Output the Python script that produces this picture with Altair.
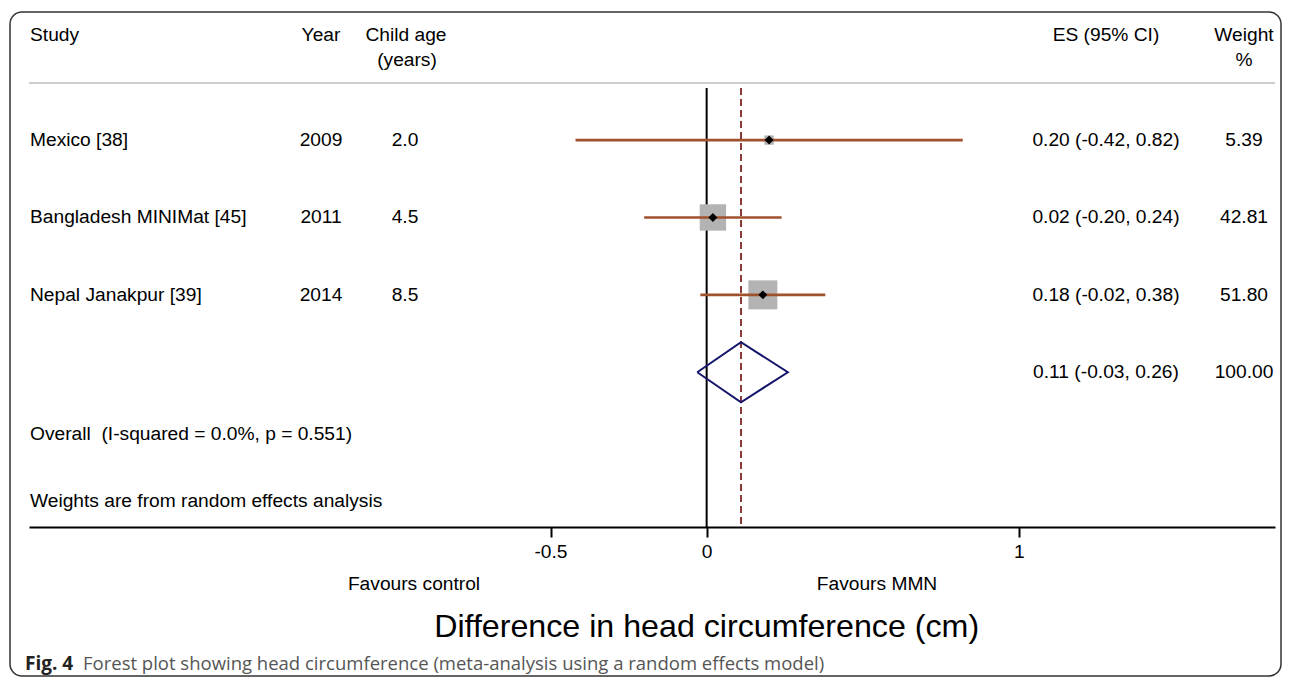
import altair as alt
import pandas as pd

# ---------------- data ----------------
studies = ["Mexico [38]", "Bangladesh MINIMat [45]", "Nepal Janakpur [39]"]
years = ["2009", "2011", "2014"]
ages = ["2.0", "4.5", "8.5"]
es = [0.20, 0.02, 0.18]
ci_lo = [-0.42, -0.20, -0.02]
ci_hi = [0.82, 0.24, 0.38]
weights = [5.39, 42.81, 51.80]

overall_es = 0.11
overall_lo = -0.03
overall_hi = 0.26
overall_weight = 100.00
overall_label = "Overall \u00a0(I-squared = 0.0%, p = 0.551)"
weights_note = "Weights are from random effects analysis"

x_ticks = [-0.5, 0, 1]
null_value = 0

# ---------------- layout (row units) ----------------
FONT = "Liberation Sans"
FS = 19.2
n = len(studies)
rows = list(range(1, n + 1))
overall_row = n + 1
HDR1, HDR2 = -0.358, -0.035
SEP_ROW = 0.263
VTOP = 0.328
OVERALL_TXT = 4.80
WEIGHTS_TXT = 5.668
AXIS_ROW = 6.0
TOP_ROW = -0.707
FAV_ROW = 6.742
TITLE_ROW = 7.298
CAP_ROW = 7.765
DIAMOND_H = 0.388

W, H = 1246, 519
xscale = alt.Scale(domain=[-2.170, 1.820], nice=False, zero=False)
yscale = alt.Scale(domain=[TOP_ROW, AXIS_ROW], reverse=True, nice=False, zero=False)
xaxis = alt.Axis(
    values=x_ticks, title=None, grid=False, domain=True, domainColor="black",
    domainWidth=2, tickColor="black", tickWidth=2, tickSize=10,
    labelFont=FONT, labelFontSize=FS, labelColor="black", labelPadding=5,
    labelFlush=False, format="~g",
    labelExpr="replace(datum.label, '\u2212', '-')")

studies_df = pd.DataFrame({
    "study": studies, "year": years, "age": ages, "es": es,
    "lo": ci_lo, "hi": ci_hi, "w": weights, "row": rows,
    "es_txt": [f"{e:.2f} ({l:.2f}, {h:.2f})" for e, l, h in zip(es, ci_lo, ci_hi)],
    "w_txt": [f"{w:.2f}" for w in weights],
})

def X(f="x"):
    return alt.X(f"{f}:Q", scale=xscale, axis=xaxis)

def Y(f="row"):
    return alt.Y(f"{f}:Q", scale=yscale, axis=None)

base = alt.Chart(studies_df)

# frame
frame = alt.Chart(pd.DataFrame({"a": [0]})).mark_rect(
    fill=None, stroke="#333333", strokeWidth=1.5, cornerRadius=12
).encode(x=alt.value(-19), x2=alt.value(1252), y=alt.value(4), y2=alt.value(668))

# header separator
sep = alt.Chart(pd.DataFrame({"row": [SEP_ROW]})).mark_rule(
    color="#bdbdbd", strokeWidth=1.5
).encode(x=alt.value(0), x2=alt.value(W), y=Y())

# null line & overall dashed line
null_df = pd.DataFrame({"x": [null_value], "y1": [VTOP], "y2": [AXIS_ROW]})
ov_df_line = pd.DataFrame({"x": [overall_es], "y1": [VTOP], "y2": [AXIS_ROW]})
null_line = alt.Chart(null_df).mark_rule(color="black", strokeWidth=2).encode(
    x=X(), y=Y("y1"), y2="y2:Q")
ov_line = alt.Chart(ov_df_line).mark_rule(
    color="#8B3A3A", strokeWidth=2, strokeDash=[7, 4]
).encode(x=X(), y=Y("y1"), y2="y2:Q")

# weight squares
squares = base.mark_point(shape="square", filled=True, color="#b3b3b3", opacity=1).encode(
    x=X("es"), y=Y(),
    size=alt.Size("w:Q", scale=alt.Scale(domain=[0, 100], range=[0, 1624]), legend=None))

# CI lines
ci = base.mark_rule(color="#A0522D", strokeWidth=2.6).encode(
    x=X("lo"), x2="hi:Q", y=Y())

# point estimates
pts = base.mark_point(shape="diamond", filled=True, color="black", size=80, opacity=1).encode(
    x=X("es"), y=Y())

# overall diamond
dia_df = pd.DataFrame({
    "x": [overall_lo, overall_es, overall_hi, overall_es, overall_lo],
    "row": [overall_row, overall_row - DIAMOND_H, overall_row, overall_row + DIAMOND_H, overall_row],
    "o": [0, 1, 2, 3, 4]})
diamond = alt.Chart(dia_df).mark_line(color="#15156b", strokeWidth=2).encode(
    x=X(), y=Y(), order="o:Q")

# text columns
def txt(field, xpix, align="left"):
    return base.mark_text(align=align, baseline="middle", font=FONT, fontSize=FS,
                          color="black").encode(
        x=alt.value(xpix), y=Y(), text=f"{field}:N")

t_study = txt("study", 1)
t_year = txt("year", 292, "center")
t_age = txt("age", 376, "center")
t_es = txt("es_txt", 1077, "center")
t_w = txt("w_txt", 1215, "center")

ov_df = pd.DataFrame({"row": [overall_row],
                      "es_txt": [f"{overall_es:.2f} ({overall_lo:.2f}, {overall_hi:.2f})"],
                      "w_txt": [f"{overall_weight:.2f}"]})
def otxt(field, xpix, align):
    return alt.Chart(ov_df).mark_text(align=align, baseline="middle", font=FONT,
                                      fontSize=FS, color="black").encode(
        x=alt.value(xpix), y=Y(), text=f"{field}:N")
t_ov_es = otxt("es_txt", 1077, "center")
t_ov_w = otxt("w_txt", 1215, "center")

# headers & notes
hdr_df = pd.DataFrame({
    "t": ["Study", "Year", "Child age", "(years)", "ES (95% CI)", "Weight", "%",
          overall_label, weights_note],
    "row": [HDR1, HDR1, HDR1, HDR2, HDR1, HDR1, HDR2, OVERALL_TXT, WEIGHTS_TXT],
    "xp": [1, 292, 377, 378, 1077, 1215, 1215, 1, 1],
    "al": ["left", "center", "center", "center", "center", "center", "center", "left", "left"],
})
hdr_layers = []
for al in ["left", "center"]:
    hdr_layers.append(alt.Chart(hdr_df[hdr_df.al == al]).mark_text(
        align=al, baseline="middle", font=FONT, fontSize=FS, color="black").encode(
        x=alt.X("xp:Q", scale=None, axis=None), y=Y(), text="t:N"))

fav_df = pd.DataFrame({"t": ["Favours control", "Favours MMN"], "xp": [385, 848],
                       "row": [FAV_ROW, FAV_ROW]})
fav = alt.Chart(fav_df).mark_text(align="center", baseline="middle", font=FONT,
                                  fontSize=FS, color="black").encode(
    x=alt.X("xp:Q", scale=None, axis=None), y=Y(), text="t:N")

title_df = pd.DataFrame({"t": ["Difference in head circumference (cm)"], "x": [null_value],
                         "row": [TITLE_ROW]})
title = alt.Chart(title_df).mark_text(align="center", baseline="middle", font=FONT,
                                      fontSize=32.2, color="black").encode(
    x=X(), y=Y(), text="t:N")

cap_df = pd.DataFrame({"t": ["Fig. 4"], "row": [CAP_ROW]})
cap_bold = alt.Chart(cap_df).mark_text(align="left", baseline="middle", font="Open Sans",
                                       fontSize=19, fontWeight="bold", color="#222222").encode(
    x=alt.value(-4), y=Y(), text="t:N")
cap2_df = pd.DataFrame({"t": ["Forest plot showing head circumference (meta-analysis using a random effects model)"],
                        "row": [CAP_ROW]})
cap_rest = alt.Chart(cap2_df).mark_text(align="left", baseline="middle", font="Open Sans",
                                        fontSize=18.5, color="#555555").encode(
    x=alt.value(54), y=Y(), text="t:N")

chart = alt.layer(
    frame, sep, null_line, ov_line, squares, ci, pts, diamond,
    t_study, t_year, t_age, t_es, t_w, t_ov_es, t_ov_w, *hdr_layers, fav, title,
    cap_bold, cap_rest
).properties(
    width=W, height=H, autosize="none",
    padding={"left": 21, "top": 0, "right": 7, "bottom": 150},
    background="white"
).configure_view(stroke=None)

chart.save("out.html", embed_options={"renderer": "svg", "actions": False})
